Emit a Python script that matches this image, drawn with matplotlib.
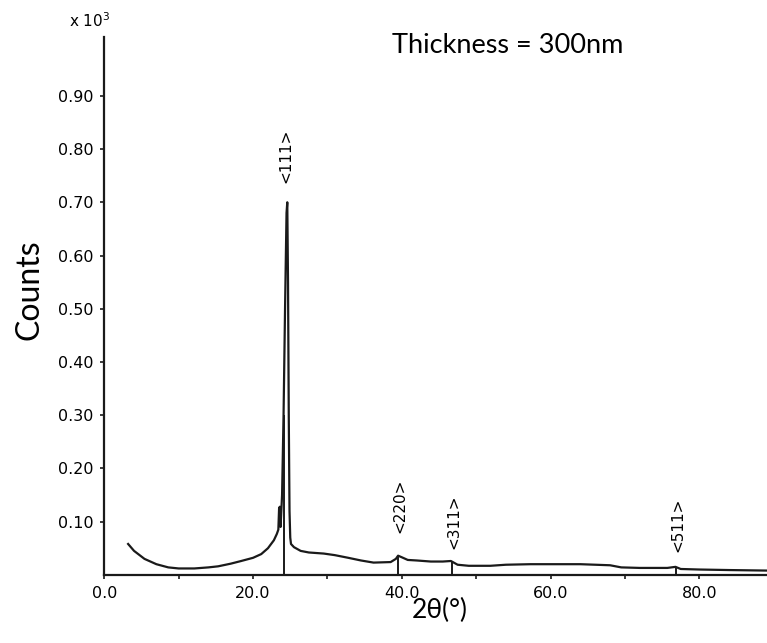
import numpy as np
import matplotlib
matplotlib.use('Agg')
import matplotlib.pyplot as plt
from matplotlib.ticker import FixedLocator

# XRD trace (2theta in degrees, counts x 10^3)
two_theta = [3.2, 4.0, 5.4, 7.0, 8.6, 10.0, 12.1, 14.0, 15.3, 17.0, 18.4, 20.0,
             21.1, 22.0, 22.8, 23.2, 23.4, 23.5, 23.6, 23.7, 23.9, 24.1, 24.3,
             24.5, 24.6, 24.7, 24.8, 24.9, 25.0, 25.1, 25.5, 26.4, 27.5, 29.5,
             31.0, 32.8, 34.5, 36.2, 38.5, 39.2, 39.5, 40.0, 40.8, 42.0, 43.9,
             45.5, 46.6, 47.5, 49.0, 51.9, 54.0, 57.3, 60.0, 64.0, 68.0, 69.5,
             72.0, 75.7, 76.8, 77.5, 80.0, 84.0, 89.2]
counts = [0.058, 0.045, 0.030, 0.020, 0.014, 0.012, 0.012, 0.014, 0.016, 0.021,
          0.026, 0.032, 0.039, 0.050, 0.065, 0.077, 0.085, 0.125, 0.128, 0.090,
          0.150, 0.300, 0.500, 0.680, 0.700, 0.550, 0.300, 0.120, 0.070, 0.058,
          0.052, 0.045, 0.042, 0.040, 0.037, 0.032, 0.027, 0.023, 0.024, 0.030,
          0.036, 0.033, 0.028, 0.027, 0.025, 0.025, 0.026, 0.019, 0.017, 0.017,
          0.019, 0.020, 0.020, 0.020, 0.018, 0.014, 0.013, 0.013, 0.015, 0.011,
          0.010, 0.009, 0.008]

# peak markers and labels
peak_names = ['<111>', '<220>', '<311>', '<511>']
peak_pos = [24.1, 39.5, 46.7, 76.8]
peak_marker_top = [0.3, 0.034, 0.026, 0.014]
label_y = [0.787, 0.129, 0.100, 0.094]

fig = plt.figure(figsize=(7.67, 6.43), dpi=100)
ax = fig.add_axes([0.136, 0.106, 0.864, 0.836])

ax.plot(two_theta, counts, color='#1a1a1a', lw=1.6)
ax.vlines(peak_pos, 0, peak_marker_top, color='#1a1a1a', lw=1.4)

for name, xp, yl in zip(peak_names, peak_pos, label_y):
    ax.text(xp + 0.3, yl, name, rotation=90, ha='center', va='center',
            fontsize=11, family='DejaVu Sans')

ax.set_xlim(0, 89.1)
ax.set_ylim(0, 1.01)

for s in ['top', 'right']:
    ax.spines[s].set_visible(False)
for s in ['left', 'bottom']:
    ax.spines[s].set_linewidth(1.6)
    ax.spines[s].set_color('#1a1a1a')

ax.xaxis.set_major_locator(FixedLocator([0, 20, 40, 60, 80]))
ax.xaxis.set_minor_locator(FixedLocator([10, 30, 50, 70]))
ax.set_xticklabels(['0.0', '20.0', '40.0', '60.0', '80.0'])
ax.set_yticks([0.1, 0.2, 0.3, 0.4, 0.5, 0.6, 0.7, 0.8, 0.9])
ax.set_yticklabels(['%.2f' % v for v in ax.get_yticks()])
ax.tick_params(axis='both', which='both', direction='out', length=3, width=1.2,
               labelsize=11.5, pad=5, color='#1a1a1a')
for lbl in ax.get_xticklabels() + ax.get_yticklabels():
    lbl.set_family('DejaVu Sans')

fig.text(0.039, 0.549, 'Counts', rotation=90, ha='center', va='center',
         fontsize=23, family='Lato')
fig.text(0.573, 0.050, '2θ(°)', ha='center', va='center', fontsize=19, family='Lato')
fig.text(0.511, 0.930, 'Thickness = 300nm', ha='left', va='center',
         fontsize=19.5, family='Lato')
fig.text(0.117, 0.968, 'x 10$^3$', ha='center', va='center', fontsize=11,
         family='DejaVu Sans')

fig.savefig('out.png', dpi=100)
